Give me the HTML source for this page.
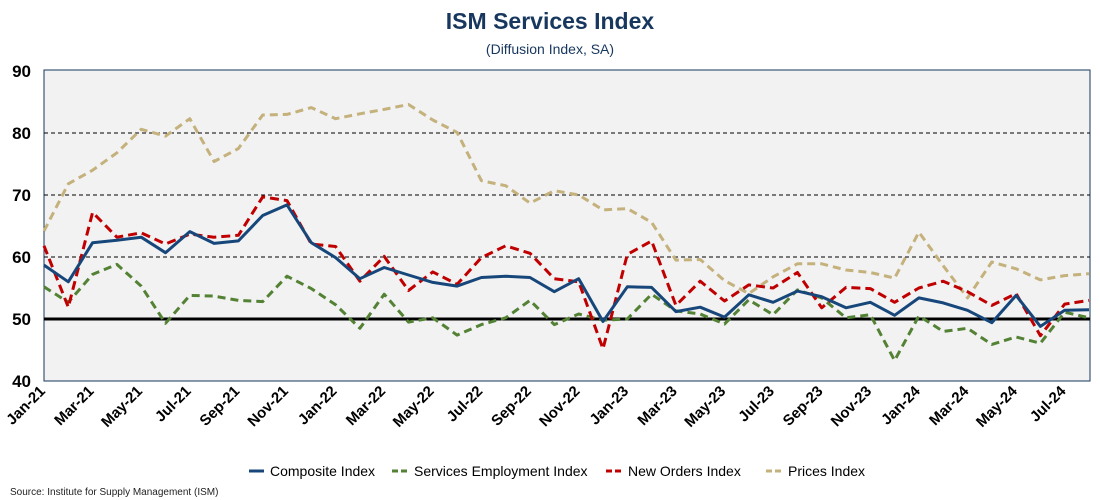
<!DOCTYPE html>
<html><head><meta charset="utf-8"><style>
html,body{margin:0;padding:0;background:#fff;}
svg{display:block;font-family:"Liberation Sans",sans-serif;}
</style></head><body>
<svg id="chart" width="1100" height="500" viewBox="0 0 1100 500">
<text x="550" y="29" text-anchor="middle" font-size="23" font-weight="bold" fill="#17375e">ISM Services Index</text>
<text x="550" y="54" text-anchor="middle" font-size="14" fill="#17375e">(Diffusion Index, SA)</text>
<rect x="44" y="70" width="1046" height="311" fill="#f2f2f2" stroke="#17375e" stroke-width="1"/>
<g id="grid"></g>
<g id="series"></g>
<g id="yticks"></g>
<g id="xticks"></g>
<g>
<g><line x1="249" y1="471" x2="264" y2="471" stroke="#17477a" stroke-width="3"/><text x="270" y="476" font-size="14">Composite Index</text></g>
<g><line x1="392" y1="471" x2="407" y2="471" stroke="#548235" stroke-width="3" stroke-dasharray="6,3"/><text x="414" y="476" font-size="14">Services Employment Index</text></g>
<g><line x1="606" y1="471" x2="621" y2="471" stroke="#c00000" stroke-width="3" stroke-dasharray="6,3"/><text x="628" y="476" font-size="14">New Orders Index</text></g>
<g><line x1="766" y1="471" x2="781" y2="471" stroke="#c4b17c" stroke-width="3" stroke-dasharray="6,3"/><text x="788" y="476" font-size="14">Prices Index</text></g>
</g>
<text x="10" y="495" font-size="10" fill="#222">Source: Institute for Supply Management (ISM)</text>
</svg>
<script>
const months = ["Jan-21","Feb-21","Mar-21","Apr-21","May-21","Jun-21","Jul-21","Aug-21","Sep-21","Oct-21","Nov-21","Dec-21","Jan-22","Feb-22","Mar-22","Apr-22","May-22","Jun-22","Jul-22","Aug-22","Sep-22","Oct-22","Nov-22","Dec-22","Jan-23","Feb-23","Mar-23","Apr-23","May-23","Jun-23","Jul-23","Aug-23","Sep-23","Oct-23","Nov-23","Dec-23","Jan-24","Feb-24","Mar-24","Apr-24","May-24","Jun-24","Jul-24","Aug-24"];
const composite = [58.7,56.0,62.3,62.7,63.2,60.7,64.1,62.2,62.6,66.7,68.4,62.3,59.9,56.5,58.3,57.1,55.9,55.3,56.7,56.9,56.7,54.4,56.5,49.6,55.2,55.1,51.2,51.9,50.3,53.9,52.7,54.5,53.6,51.8,52.7,50.6,53.4,52.6,51.4,49.4,53.8,48.8,51.4,51.5];
const employment = [55.2,52.7,57.2,58.8,55.3,49.3,53.8,53.7,53.0,52.8,56.9,54.9,52.3,48.5,54.0,49.5,50.2,47.4,49.1,50.2,53.0,49.1,50.8,49.8,50.0,54.0,51.3,50.8,49.2,53.1,50.7,54.7,53.4,50.2,50.7,43.3,50.5,48.0,48.5,45.9,47.1,46.1,51.1,50.2];
const newOrders = [61.8,51.9,67.2,63.2,63.9,62.1,63.7,63.2,63.5,69.7,69.1,62.1,61.7,56.1,60.1,54.6,57.6,55.6,59.9,61.8,60.6,56.5,56.0,45.2,60.4,62.6,52.2,56.1,52.9,55.5,55.0,57.5,51.8,55.1,54.9,52.7,55.0,56.1,54.4,52.2,54.1,47.3,52.4,53.0];
const prices = [64.2,71.8,74.0,76.8,80.6,79.5,82.3,75.4,77.5,82.9,83.0,84.1,82.3,83.1,83.8,84.6,82.1,80.1,72.3,71.5,68.7,70.7,70.0,67.6,67.8,65.6,59.5,59.6,56.2,54.1,56.8,58.9,58.9,57.9,57.5,56.6,64.0,58.6,53.4,59.2,58.1,56.3,57.0,57.3];
const yTicks = [40,50,60,70,80,90];

const NS="http://www.w3.org/2000/svg";
const X0=44,X1=1089,Y0=381,Y1=71;
function xs(i){return X0+(X1-X0)*i/(months.length-1);}
function ys(v){return Y0-(v-40)/(90-40)*(Y0-Y1);}
function mk(tag,attrs,parent){const e=document.createElementNS(NS,tag);for(const k in attrs)e.setAttribute(k,attrs[k]);parent.appendChild(e);return e;}
const grid=document.getElementById('grid'),ser=document.getElementById('series'),yt=document.getElementById('yticks'),xt=document.getElementById('xticks');
yTicks.forEach(v=>{
  if(v>50&&v<90){const l=mk('line',{x1:44,x2:1090,y1:ys(v),y2:ys(v),stroke:'#000','stroke-width':1,'stroke-dasharray':'4,3'},grid);
    
    }
  const t=mk('text',{x:31,y:ys(v)+6,'text-anchor':'end','font-size':17,'font-weight':'bold'},yt);
  t.textContent=v;
  
  
});
const specs=[[employment,'#548235','8,5','employment-line'],[prices,'#c4b17c','8,5','prices-line'],[newOrders,'#c00000','9,5','new-orders-line'],[composite,'#17477a','','composite-line']];
const ref=mk('line',{x1:44,x2:1090,y1:ys(50),y2:ys(50),stroke:'#000','stroke-width':3},grid);


specs.forEach(s=>{
  const pts=s[0].map((v,i)=>xs(i).toFixed(1)+','+ys(v).toFixed(1)).join(' ');
  const a={points:pts,fill:'none',stroke:s[1],'stroke-width':3,'stroke-linejoin':'round'};
  if(s[2])a['stroke-dasharray']=s[2];
  const p=mk('polyline',a,ser);
  
  
});
months.forEach((m,i)=>{
  if(i%2)return;
  const x=xs(i)+2,y=392;
  const t=mk('text',{x:x,y:y,'text-anchor':'end','font-size':15,'font-weight':'bold',transform:'rotate(-45 '+x+' '+y+')'},xt);
  t.textContent=m;
  
  
});
</script>
</body></html>
